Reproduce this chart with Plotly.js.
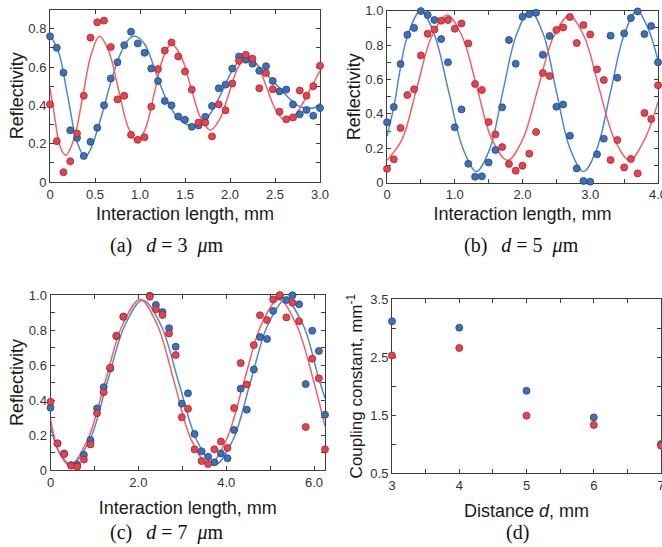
<!DOCTYPE html>
<html><head><meta charset="utf-8">
<script src="https://cdn.plot.ly/plotly-3.0.1.min.js"></script>
<style>html,body{margin:0;padding:0;background:#fff}#chart{width:662px;height:547px}</style>
</head><body><div id="chart"></div>
<script>
// ---------- Panel (a): d = 3 um ----------
const xA = [0,0.075,0.15,0.225,0.3,0.375,0.45,0.525,0.6,0.675,0.75,0.825,0.9,0.975,1.05,1.125,1.2,1.275,1.35,1.425,1.5,1.575,1.65,1.725,1.8,1.875,1.95,2.025,2.1,2.175,2.25,2.325,2.4,2.475,2.55,2.625,2.7,2.775,2.85,2.925,3.0];
const aBlue = [0.76,0.70,0.57,0.27,0.23,0.136,0.21,0.283,0.40,0.54,0.625,0.714,0.784,0.723,0.674,0.592,0.527,0.423,0.40,0.342,0.325,0.288,0.295,0.34,0.397,0.489,0.508,0.592,0.655,0.638,0.617,0.58,0.604,0.527,0.473,0.482,0.405,0.353,0.376,0.346,0.386];
const aRed = [0.405,0.213,0.051,0.108,0.253,0.45,0.753,0.833,0.842,0.704,0.431,0.45,0.246,0.22,0.234,0.393,0.589,0.686,0.728,0.655,0.576,0.482,0.31,0.31,0.238,0.405,0.374,0.514,0.632,0.664,0.643,0.489,0.569,0.484,0.367,0.327,0.337,0.477,0.45,0.50,0.606];
const aBlueFitX = [0,0.1,0.2,0.3,0.39,0.45,0.525,0.6,0.675,0.75,0.825,0.9,0.95,1.05,1.125,1.2,1.275,1.35,1.43,1.5,1.6,1.7,1.8,1.9,2.0,2.08,2.15,2.25,2.35,2.45,2.55,2.65,2.75,2.85,2.95,3.0];
const aBlueFitY = [0.77,0.67,0.44,0.21,0.13,0.17,0.27,0.39,0.52,0.63,0.71,0.755,0.76,0.72,0.64,0.54,0.45,0.38,0.33,0.305,0.29,0.31,0.37,0.46,0.56,0.62,0.645,0.63,0.59,0.54,0.49,0.44,0.40,0.385,0.39,0.41];
const aRedFitX = [0,0.045,0.09,0.135,0.18,0.27,0.365,0.46,0.55,0.655,0.76,0.865,0.97,1.065,1.16,1.255,1.35,1.4575,1.565,1.6725,1.78,1.885,1.99,2.095,2.2,2.305,2.41,2.515,2.62,2.72,2.82,2.92,3.0];
const aRedFitY = [0.49,0.36,0.23,0.16,0.14,0.23,0.45,0.67,0.76,0.68,0.485,0.29,0.21,0.285,0.465,0.645,0.72,0.654,0.495,0.336,0.27,0.327,0.465,0.603,0.66,0.61,0.49,0.37,0.32,0.35,0.42,0.51,0.58];

// ---------- Panel (b): d = 5 um ----------
const xB = [0,0.1,0.2,0.3,0.4,0.5,0.6,0.7,0.8,0.9,1.0,1.1,1.2,1.3,1.4,1.5,1.6,1.7,1.8,1.9,2.0,2.1,2.2,2.3,2.4,2.5,2.6,2.7,2.8,2.9,3.0,3.1,3.2,3.3,3.4,3.5,3.6,3.7,3.8,3.9,4.0];
const bBlue = [0.351,0.44,0.69,0.86,0.90,0.998,0.975,0.946,0.835,0.70,0.322,0.426,0.11,0.035,0.037,0.118,0.19,0.438,0.83,0.692,0.965,0.98,0.988,0.744,0.853,0.442,0.455,0.273,0.083,0.01,0.006,0.165,0.256,0.855,0.61,0.868,0.957,0.996,0.864,0.911,0.70];
const bRed = [0.081,0.136,0.318,0.51,0.543,0.74,0.866,0.891,0.942,0.946,0.895,0.926,0.81,0.574,0.539,0.353,0.281,0.207,0.109,0.07,0.099,0.169,0.295,0.638,0.62,0.888,0.903,0.963,0.812,0.917,0.862,0.659,0.597,0.132,0.248,0.089,0.138,0.054,0.405,0.37,0.566];
const bBlueFitX = [0,0.1,0.3,0.5,0.7,0.91,1.12,1.32,1.52,1.71,1.91,2.11,2.31,2.5,2.7,2.9,3.1,3.3,3.5,3.69,3.85,4.0];
const bBlueFitY = [0.27,0.44,0.85,1.0,0.86,0.53,0.2,0.065,0.2,0.53,0.86,1.0,0.86,0.53,0.2,0.065,0.2,0.53,0.86,1.0,0.9,0.71];
const bRedFitX = [0,0.22,0.44,0.66,0.89,1.11,1.33,1.55,1.78,2.0,2.23,2.46,2.69,2.91,3.13,3.36,3.58,3.8,4.0];
const bRedFitY = [0.13,0.25,0.55,0.85,0.975,0.85,0.55,0.25,0.13,0.25,0.55,0.85,0.97,0.85,0.55,0.25,0.13,0.25,0.47];

// ---------- Panel (c): d = 7 um ----------
const xC = [0,0.16,0.31,0.47,0.61,0.76,0.91,1.06,1.21,1.36,1.50,1.66,2.26,2.40,2.55,2.70,2.85,2.99,3.13,3.28,3.44,3.59,3.73,3.88,4.03,4.18,4.33,4.47,4.63,4.77,4.93,5.07,5.22,5.37,5.51,5.66,5.81,5.96,6.11,6.25];
const cBlue = [0.356,0.152,0.095,0.028,0.03,0.086,0.171,0.352,0.473,0.58,0.765,0.876,0.996,0.943,0.903,0.81,0.705,0.379,0.438,0.206,0.107,0.076,0.044,0.095,0.067,0.229,0.465,0.345,0.575,0.76,0.749,0.909,0.994,0.971,0.998,0.947,0.491,0.796,0.68,0.316];
const cRed = [0.39,0.152,0.09,0.025,0.02,0.06,0.146,0.325,0.445,0.585,0.767,0.876,0.99,0.918,0.886,0.78,0.657,0.301,0.35,0.118,0.051,0.034,0.118,0.163,0.126,0.354,0.611,0.489,0.714,0.884,0.857,0.975,1.0,0.872,0.956,0.85,0.246,0.636,0.524,0.118];
const cBlueFitX = [0,0.2,0.48,0.89,1.29,1.7,2.1,2.51,2.92,3.33,3.74,4.15,4.55,4.95,5.35,5.75,6.1,6.25];
const cBlueFitY = [0.25,0.1,0.03,0.17,0.5,0.83,0.97,0.83,0.5,0.17,0.03,0.17,0.5,0.83,0.97,0.83,0.53,0.41];
const cRedFitX = [0,0.2,0.44,0.84,1.24,1.64,2.04,2.43,2.82,3.21,3.61,4.0,4.4,4.8,5.2,5.6,6.0,6.25];
const cRedFitY = [0.29,0.1,0.025,0.17,0.5,0.83,0.975,0.83,0.5,0.17,0.03,0.17,0.5,0.83,0.975,0.83,0.5,0.25];

// ---------- Panel (d): coupling constant ----------
const dDist = [3,4,5,6,7];
const dBlue = [3.12,3.01,1.92,1.46,1.0];
const dRed = [2.53,2.66,1.49,1.33,0.97];

// ---------- Tick labels ----------
const aXTicks = [0,0.5,1.0,1.5,2.0,2.5,3.0];
const aXLabels = ['0','0.5','1.0','1.5','2.0','2.5','3.0'];
const aYTicks = [0,0.2,0.4,0.6,0.8];
const aYLabels = ['0','0.2','0.4','0.6','0.8'];
const bXTicks = [0,1,2,3,4];
const bXLabels = ['0','1.0','2.0','3.0','4.0'];
const rYTicks = [0,0.2,0.4,0.6,0.8,1.0];
const rYLabels = ['0','0.2','0.4','0.6','0.8','1.0'];
const cXTicks = [0,2,4,6];
const cXLabels = ['0','2.0','4.0','6.0'];
const dXTicks = [3,4,5,6,7];
const dXLabels = ['3','4','5','6','7'];
const dYTicks = [0.5,1.5,2.5,3.5];
const dYLabels = ['0.5','1.5','2.5','3.5'];

// ---------- Styling ----------
const W = 662, H = 547;
const SANS = 'Liberation Sans, Arial, sans-serif';
const SERIF = 'Liberation Serif, Times New Roman, serif';
const LC = '#3c3c3c';
const BLUE_LINE = '#4f86d2', RED_LINE = '#f2606a';
const BLUE_FILL = '#3e70b8', BLUE_EDGE = '#22457e';
const RED_FILL = '#e6434e', RED_EDGE = '#a3232d';

function hx(a,b){ return [a/W, b/W]; }
function vy(top,bot){ return [1-bot/H, 1-top/H]; }

function axis(o){
  const base = {showline:true, linecolor:LC, linewidth:1, mirror:'ticks', ticks:'inside', ticklen:4,
    tickwidth:1, tickcolor:LC, showgrid:false, zeroline:false, automargin:false, layer:'below traces',
    fixedrange:true, tickmode:'array', ticklabeloverflow:'allow', tickfont:{family:SANS, size:13, color:'#333'}};
  return Object.assign(base, o);
}
function minor(d, t0){ return {ticks:'inside', ticklen:4, tickwidth:1, tickcolor:LC, tickmode:'linear', dtick:d, tick0:t0||0, showgrid:false}; }
function ttl(t, s, sz){ return {text:t, font:{family:SANS, size:sz||18, color:'#1a1a1a'}, standoff:s}; }

function fit(x,y,c,xa,ya){ return {x:x,y:y,mode:'lines',line:{color:c,width:1.5,shape:'spline',smoothing:1},xaxis:xa,yaxis:ya,hoverinfo:'skip'}; }
function pts(x,y,f,e,xa,ya){ return {x:x,y:y,mode:'markers',marker:{size:7,color:f,line:{color:e,width:0.8}},xaxis:xa,yaxis:ya,cliponaxis:false,hoverinfo:'skip'}; }

const data = [
  fit(aBlueFitX,aBlueFitY,BLUE_LINE,'x','y'), fit(aRedFitX,aRedFitY,RED_LINE,'x','y'),
  pts(xA,aBlue,BLUE_FILL,BLUE_EDGE,'x','y'), pts(xA,aRed,RED_FILL,RED_EDGE,'x','y'),
  fit(bBlueFitX,bBlueFitY,BLUE_LINE,'x2','y2'), fit(bRedFitX,bRedFitY,RED_LINE,'x2','y2'),
  pts(xB,bBlue,BLUE_FILL,BLUE_EDGE,'x2','y2'), pts(xB,bRed,RED_FILL,RED_EDGE,'x2','y2'),
  fit(cBlueFitX,cBlueFitY,BLUE_LINE,'x3','y3'), fit(cRedFitX,cRedFitY,RED_LINE,'x3','y3'),
  pts(xC,cBlue,BLUE_FILL,BLUE_EDGE,'x3','y3'), pts(xC,cRed,RED_FILL,RED_EDGE,'x3','y3'),
  pts(dDist,dBlue,BLUE_FILL,BLUE_EDGE,'x4','y4'), pts(dDist,dRed,RED_FILL,RED_EDGE,'x4','y4')
];

const capFont = {family:SERIF, size:20, color:'#111'};
function cap(text, cx, cy){ return {text:text, xref:'paper', yref:'paper', x:cx/W, y:1-cy/H, xanchor:'center', yanchor:'middle', showarrow:false, font:capFont}; }

const layout = {
  width:W, height:H, margin:{l:0,r:0,t:0,b:0}, paper_bgcolor:'#fff', plot_bgcolor:'#fff', showlegend:false,
  font:{family:SANS, size:13, color:'#333'},
  xaxis: axis({domain:hx(50,320), range:[0,3], tickvals:aXTicks, ticktext:aXLabels, anchor:'y', title:ttl('Interaction length, mm',6)}),
  yaxis: axis({domain:vy(9.5,182), range:[0,0.9], tickvals:aYTicks, ticktext:aYLabels, anchor:'x', minor:minor(0.1), title:ttl('Reflectivity',0)}),
  xaxis2: axis({domain:hx(387,658), range:[0,4], tickvals:bXTicks, ticktext:bXLabels, anchor:'y2', minor:minor(0.5), title:ttl('Interaction length, mm',6)}),
  yaxis2: axis({domain:vy(10.7,182.7), range:[0,1], tickvals:rYTicks, ticktext:rYLabels, anchor:'x2', minor:minor(0.1), title:ttl('Reflectivity',0)}),
  xaxis3: axis({domain:hx(50.5,325), range:[0,6.25], tickvals:cXTicks, ticktext:cXLabels, anchor:'y3', minor:minor(1), title:ttl('Interaction length, mm',12)}),
  yaxis3: axis({domain:vy(295,470), range:[0,1], tickvals:rYTicks, ticktext:rYLabels, anchor:'x3', minor:minor(0.1), title:ttl('Reflectivity',0)}),
  xaxis4: axis({domain:hx(392,661), range:[3,7], tickvals:dXTicks, ticktext:dXLabels, anchor:'y4', minor:minor(0.5,3), title:ttl('Distance <i>d</i>, mm',12)}),
  yaxis4: axis({domain:vy(299.3,473), range:[0.5,3.5], tickvals:dYTicks, ticktext:dYLabels, anchor:'x4', minor:minor(0.5,0.5), title:ttl('Coupling constant, mm<sup>-1</sup>',3,17)}),
  annotations: [
    cap('(a)\u2002\u2009<i>d</i> = 3\u2002<i>\u03bc</i>m', 167, 246),
    cap('(b)\u2002\u2009<i>d</i> = 5\u2002<i>\u03bc</i>m', 521, 246),
    cap('(c)\u2002\u2009<i>d</i> = 7\u2002<i>\u03bc</i>m', 167, 532),
    cap('(d)', 517, 532)
  ]
};

Plotly.newPlot('chart', data, layout, {staticPlot:true, displayModeBar:false});
</script>
</body></html>
